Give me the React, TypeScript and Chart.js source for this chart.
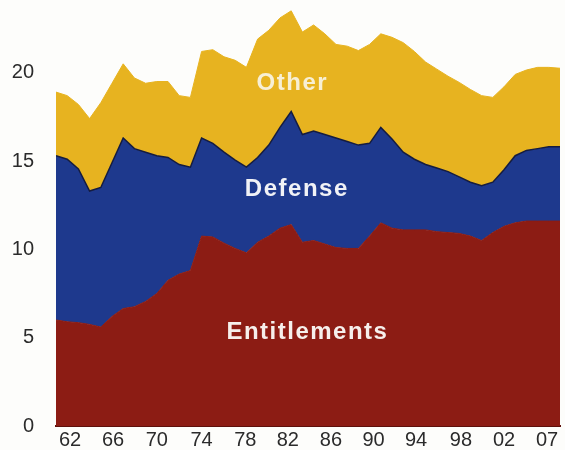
import { useEffect, useRef } from "react";
import { Chart, registerables } from "chart.js";
import type { ChartConfiguration, Plugin } from "chart.js";

Chart.register(...registerables);

const YEARS = [
  1962, 1963, 1964, 1965, 1966, 1967, 1968, 1969, 1970, 1971, 1972, 1973,
  1974, 1975, 1976, 1977, 1978, 1979, 1980, 1981, 1982, 1983, 1984, 1985,
  1986, 1987, 1988, 1989, 1990, 1991, 1992, 1993, 1994, 1995, 1996, 1997,
  1998, 1999, 2000, 2001, 2002, 2003, 2004, 2005, 2006, 2007,
];

// percent of GDP
const ENTITLEMENTS = [
  6.0, 5.9, 5.85, 5.75, 5.6, 6.2, 6.65, 6.75, 7.05, 7.5, 8.25, 8.6,
  8.8, 10.75, 10.7, 10.35, 10.05, 9.8, 10.4, 10.75, 11.2, 11.4, 10.4, 10.5,
  10.3, 10.1, 10.05, 10.05, 10.75, 11.5, 11.2, 11.1, 11.1, 11.1, 11.0, 10.95,
  10.9, 10.75, 10.5, 10.95, 11.3, 11.5, 11.6, 11.6, 11.6, 11.6,
];
const DEFENSE = [
  9.3, 9.2, 8.7, 7.55, 7.9, 8.7, 9.65, 8.95, 8.45, 7.8, 6.95, 6.2,
  5.85, 5.55, 5.3, 5.15, 5.0, 4.85, 4.8, 5.15, 5.7, 6.4, 6.1, 6.2,
  6.2, 6.2, 6.05, 5.85, 5.25, 5.4, 5.05, 4.4, 4.0, 3.7, 3.6, 3.45,
  3.2, 3.05, 3.1, 2.85, 3.2, 3.8, 4.0, 4.1, 4.2, 4.2,
];
const OTHER = [
  3.6, 3.6, 3.65, 4.1, 4.8, 4.5, 4.2, 4.0, 3.9, 4.2, 4.3, 3.9,
  3.95, 4.9, 5.3, 5.4, 5.65, 5.65, 6.7, 6.5, 6.2, 5.7, 5.8, 6.0,
  5.7, 5.3, 5.4, 5.35, 5.6, 5.3, 5.75, 6.2, 6.1, 5.8, 5.6, 5.4,
  5.35, 5.25, 5.1, 4.8, 4.7, 4.6, 4.55, 4.6, 4.5, 4.45,
];

const Y_TICKS = [0, 5, 10, 15, 20];
const X_TICK_LABELS = ["62", "66", "70", "74", "78", "82", "86", "90", "94", "98", "02", "07"];
// where the printed labels sit along the year axis
const X_TICK_POS = [
  1963.25, 1967.1, 1971.0, 1975.0, 1978.9, 1982.7, 1986.55, 1990.35, 1994.15,
  1998.15, 2002.0, 2005.85,
];

const AREA_LABELS = [
  { text: "Other", year: 1983.1, value: 19.4, color: "#f7efd4" },
  { text: "Defense", year: 1983.5, value: 13.4, color: "#f1f2f6" },
  { text: "Entitlements", year: 1984.45, value: 5.3, color: "#f6efec" },
];

const RED = "#8c1c14";
const BLUE = "#1e398d";
const YELLOW = "#e7b320";
const FONT = '"Liberation Sans", Arial, Helvetica, sans-serif';

const areaLabels: Plugin<"line"> = {
  id: "areaLabels",
  afterDatasetsDraw(chart) {
    const { ctx } = chart;
    const x = chart.scales.x;
    const y = chart.scales.y;
    ctx.save();
    ctx.font = `bold 24px ${FONT}`;
    ctx.textAlign = "center";
    ctx.textBaseline = "middle";
    (ctx as any).letterSpacing = "1.5px";
    for (const l of AREA_LABELS) {
      ctx.fillStyle = l.color;
      ctx.fillText(l.text, x.getPixelForValue(l.year), y.getPixelForValue(l.value));
    }
    ctx.restore();
  },
};

const toPoints = (vals: number[]) => vals.map((v, i) => ({ x: YEARS[i], y: v }));

export default function App() {
  const canvasRef = useRef<HTMLCanvasElement | null>(null);
  const chartRef = useRef<Chart<"line"> | null>(null);

  useEffect(() => {
    if (!canvasRef.current) return;
    chartRef.current?.destroy();

    const config: ChartConfiguration<"line"> = {
      type: "line",
      data: {
        datasets: [
          {
            label: "Entitlements",
            data: toPoints(ENTITLEMENTS),
            backgroundColor: RED,
            borderColor: RED,
            borderWidth: 1,
            fill: "origin",
          },
          {
            label: "Defense",
            data: toPoints(DEFENSE),
            backgroundColor: BLUE,
            borderColor: "#151c40",
            borderWidth: 1.5,
            fill: "-1",
          },
          {
            label: "Other",
            data: toPoints(OTHER),
            backgroundColor: YELLOW,
            borderColor: YELLOW,
            borderWidth: 1,
            fill: "-1",
          },
        ],
      },
      options: {
        responsive: true,
        maintainAspectRatio: false,
        animation: false,
        layout: { padding: { left: 12, right: 5, top: 2, bottom: 0 } },
        elements: {
          point: { radius: 0, hoverRadius: 0 },
          line: { tension: 0 },
        },
        plugins: {
          legend: { display: false },
          tooltip: { enabled: false },
        },
        scales: {
          x: {
            type: "linear",
            min: 1962,
            max: 2007,
            grid: { display: false, drawTicks: false },
            border: { display: true, color: "#5e100b", width: 2 },
            afterBuildTicks: (axis) => {
              axis.ticks = X_TICK_POS.map((v) => ({ value: v }));
            },
            afterFit: (axis) => {
              axis.height = 24;
              axis.paddingLeft = 0;
              axis.paddingRight = 0;
            },
            ticks: {
              autoSkip: false,
              maxRotation: 0,
              minRotation: 0,
              padding: 2,
              color: "#2b2b2b",
              font: { family: FONT, size: 20 },
              callback: (_v, i) => X_TICK_LABELS[i],
            },
          },
          y: {
            stacked: true,
            min: 0,
            max: 24,
            grid: { display: false, drawTicks: false },
            border: { display: false },
            afterBuildTicks: (axis) => {
              axis.ticks = Y_TICKS.map((v) => ({ value: v }));
            },
            afterFit: (axis) => {
              axis.width = 44;
              axis.paddingTop = 0;
              axis.paddingBottom = 0;
            },
            ticks: {
              padding: 22,
              color: "#2b2b2b",
              font: { family: FONT, size: 20 },
            },
          },
        },
      },
      plugins: [areaLabels],
    };

    chartRef.current = new Chart(canvasRef.current, config);
    return () => chartRef.current?.destroy();
  }, []);

  return (
    <div
      style={{
        position: "absolute",
        left: 0,
        top: 0,
        width: 565,
        height: 450,
        background: "#fdfdfb",
      }}
    >
      <canvas ref={canvasRef} />
    </div>
  );
}
